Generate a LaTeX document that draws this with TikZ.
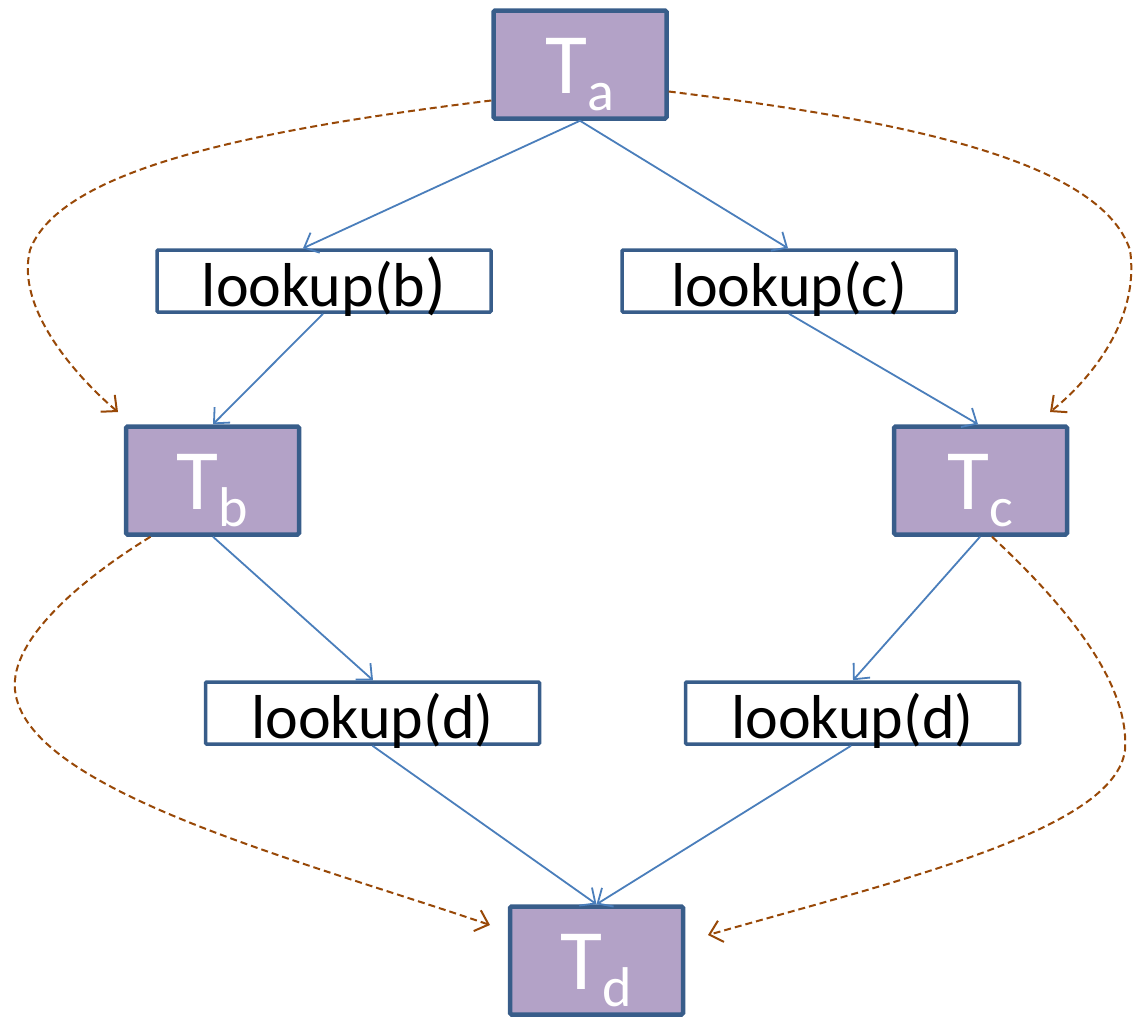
\documentclass[tikz,border=0pt]{standalone}
\usepackage{fontspec}
\setmainfont{Carlito}
\usetikzlibrary{arrows.meta,calc}
\definecolor{boxedge}{HTML}{385D8A}
\definecolor{taskfill}{HTML}{B3A2C7}
\definecolor{flow}{HTML}{4A7EBB}
\definecolor{dep}{HTML}{984807}
\newcommand\tsub[1]{{\fontsize{56}{56}\selectfont\raisebox{-17pt}{#1}}}
\begin{document}
\begin{tikzpicture}[x=1pt,y=-1pt,
  task/.style={draw=boxedge, line width=4.5pt, fill=taskfill, rounded corners=1.5pt,
    minimum width=173pt, minimum height=108pt, inner sep=0pt, text=white,
    font=\fontsize{86}{86}\selectfont, text height=58pt, text depth=0pt},
  lookupbox/.style={draw=boxedge, line width=3.5pt, fill=white, rounded corners=1pt,
    minimum width=334pt, minimum height=62pt, inner sep=0pt,
    font=\fontsize{62}{62}\selectfont, text height=50pt, text depth=0pt},
  call/.style={flow, line width=1.8pt, -{Straight Barb[length=12pt,width=22pt]}},
  order/.style={dep, line width=2pt, dash pattern=on 7pt off 4pt,
    -{Straight Barb[length=12pt,width=22pt]}}]
\useasboundingbox (0,0) rectangle (1134,1018);

% tasks
\node[task] (Ta) at (580,64.5) {T\tsub{a}};
\node[task] (Tb) at (212.5,480.5) {T\tsub{b}};
\node[task] (Tc) at (980.5,480.5) {T\tsub{c}};
\node[task] (Td) at (596.5,960.5) {T\tsub{d}};

% lookups
\node[lookupbox] (lb) at (324,281) {lookup(b{\fontsize{68}{68}\selectfont)}};
\node[lookupbox] (lc) at (789,281) {lookup(c)};
\node[lookupbox] (ldl) at (372.5,713) {lookup(d)};
\node[lookupbox] (ldr) at (852.5,713) {lookup(d)};

% calls
\draw[call] (Ta.south) -- ([xshift=-21pt]lb.north);
\draw[call] (Ta.south) -- ([xshift=-1pt]lc.north);
\draw[call] ([xshift=-1pt]lb.south) -- ([xshift=0.5pt]Tb.north);
\draw[call] (lc.south) -- ([xshift=-2.5pt]Tc.north);
\draw[call] ([xshift=0.5pt]Tb.south) -- ([xshift=0.5pt]ldl.north);
\draw[call] ([xshift=-0.5pt]Tc.south) -- ([xshift=0.5pt]ldr.north);
\draw[call] (ldl.south) -- (Td.north);
\draw[call] ([xshift=-1.5pt]ldr.south) -- (Td.north);

% ordering dependencies
\coordinate (eb) at (118,412);
\coordinate (ec) at (1050,412);
\coordinate (edl) at (490,925);
\coordinate (edr) at (708,935);
\draw[order] ([yshift=-36pt]Ta.west) .. controls (250,130) and (60,170) .. (30,250)
  .. controls (15,310) and (80,380) .. (eb);
\draw[order] ([yshift=-27pt]Ta.east) .. controls (900,120) and (1100,160) .. (1130,250)
  .. controls (1140,320) and (1090,380) .. (ec);
\draw[order] ([xshift=-62pt]Tb.south) .. controls (80,580) and (10,640) .. (15,690)
  .. controls (25,790) and (300,860) .. (edl);
\draw[order] ([xshift=11.5pt]Tc.south) .. controls (1060,600) and (1130,680) .. (1125,750)
  .. controls (1115,830) and (900,880) .. (edr);
\end{tikzpicture}
\end{document}
